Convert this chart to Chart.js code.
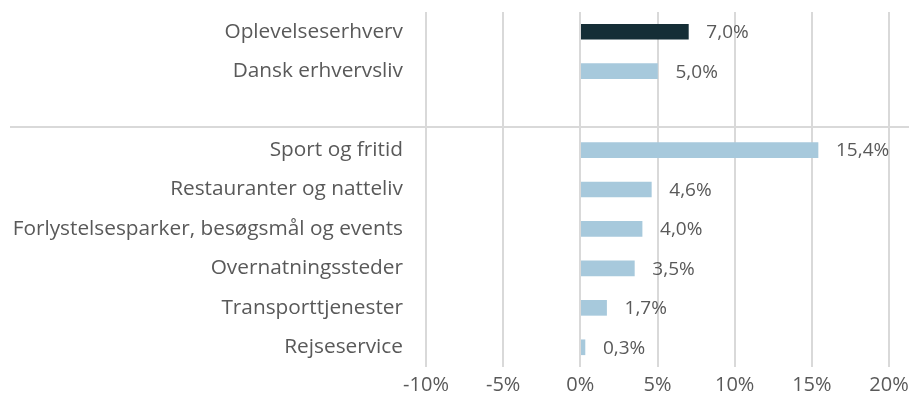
<!DOCTYPE html>
<html>
<head>
<meta charset="utf-8">
<script src="https://cdn.jsdelivr.net/npm/chart.js@4/dist/chart.umd.min.js"></script>
<style>
  html, body { margin: 0; padding: 0; background: #fff; }
</style>
</head>
<body>
<canvas id="graph1" width="909" height="407"></canvas>
<script>
// Categories (empty string = the spacer row between the two groups)
const categories = [
  'Oplevelseserhverv',
  'Dansk erhvervsliv',
  '',
  'Sport og fritid',
  'Restauranter og natteliv',
  'Forlystelsesparker, besøgsmål og events',
  'Overnatningssteder',
  'Transporttjenester',
  'Rejseservice'
];
const growth = [7.0, 5.0, null, 15.4, 4.6, 4.0, 3.5, 1.7, 0.3];
const xTicks = [-10, -5, 0, 5, 10, 15, 20];

const DARK = '#152e36';
const LIGHT = '#a7c9dc';
const TEXT = '#595959';
const FONT = "'Open Sans', sans-serif";

// value labels like "7,0%" right of each bar
const valueLabels = {
  id: 'valueLabels',
  afterDatasetsDraw(chart) {
    const ctx = chart.ctx;
    const meta = chart.getDatasetMeta(0);
    ctx.save();
    ctx.font = '19px ' + FONT;
    ctx.fillStyle = TEXT;
    ctx.textAlign = 'left';
    ctx.textBaseline = 'middle';
    meta.data.forEach((bar, i) => {
      const v = growth[i];
      if (v === null) return;
      ctx.fillText(v.toFixed(1).replace('.', ',') + '%', bar.x + 18, bar.y + 1);
    });
    ctx.restore();
  }
};

// grey line separating the two groups
const separator = {
  id: 'separator',
  afterDraw(chart) {
    const y = chart.scales.y.getPixelForValue(2.42);
    const ctx = chart.ctx;
    ctx.save();
    ctx.strokeStyle = '#d9d9d9';
    ctx.lineWidth = 2;
    ctx.beginPath();
    ctx.moveTo(10, Math.round(y));
    ctx.lineTo(chart.width, Math.round(y));
    ctx.stroke();
    ctx.restore();
  }
};

new Chart(document.getElementById('graph1'), {
  type: 'bar',
  data: {
    labels: categories,
    datasets: [{
      data: growth,
      backgroundColor: growth.map((v, i) => i === 0 ? DARK : LIGHT),
      barThickness: 15,
      borderWidth: 0
    }]
  },
  options: {
    indexAxis: 'y',
    responsive: false,
    animation: false,
    maintainAspectRatio: false,
    devicePixelRatio: 1,
    layout: { padding: { top: 12, right: 20, left: 0, bottom: 0 } },
    plugins: {
      legend: { display: false },
      tooltip: { enabled: false }
    },
    scales: {
      x: {
        min: -10,
        max: 20,
        afterBuildTicks(scale) {
          scale.ticks = xTicks.map(v => ({ value: v }));
        },
        afterFit(scale) {
          scale.height = 40;
          scale.paddingLeft = 0;
          scale.paddingRight = 0;
        },
        grid: { color: '#d9d9d9', lineWidth: 2, drawTicks: false },
        border: { display: false },
        ticks: {
          padding: 6,
          color: TEXT,
          font: { family: FONT, size: 20 },
          callback: v => v + '%'
        }
      },
      y: {
        afterFit(scale) {
          scale.width = 426;
          scale.paddingTop = 0;
          scale.paddingBottom = 0;
        },
        grid: { display: false, drawTicks: false },
        border: { display: false },
        ticks: {
          padding: 23,
          color: TEXT,
          font: { family: FONT, size: 20.8 },
          autoSkip: false
        }
      }
    }
  },
  plugins: [valueLabels, separator]
});
</script>
</body>
</html>
